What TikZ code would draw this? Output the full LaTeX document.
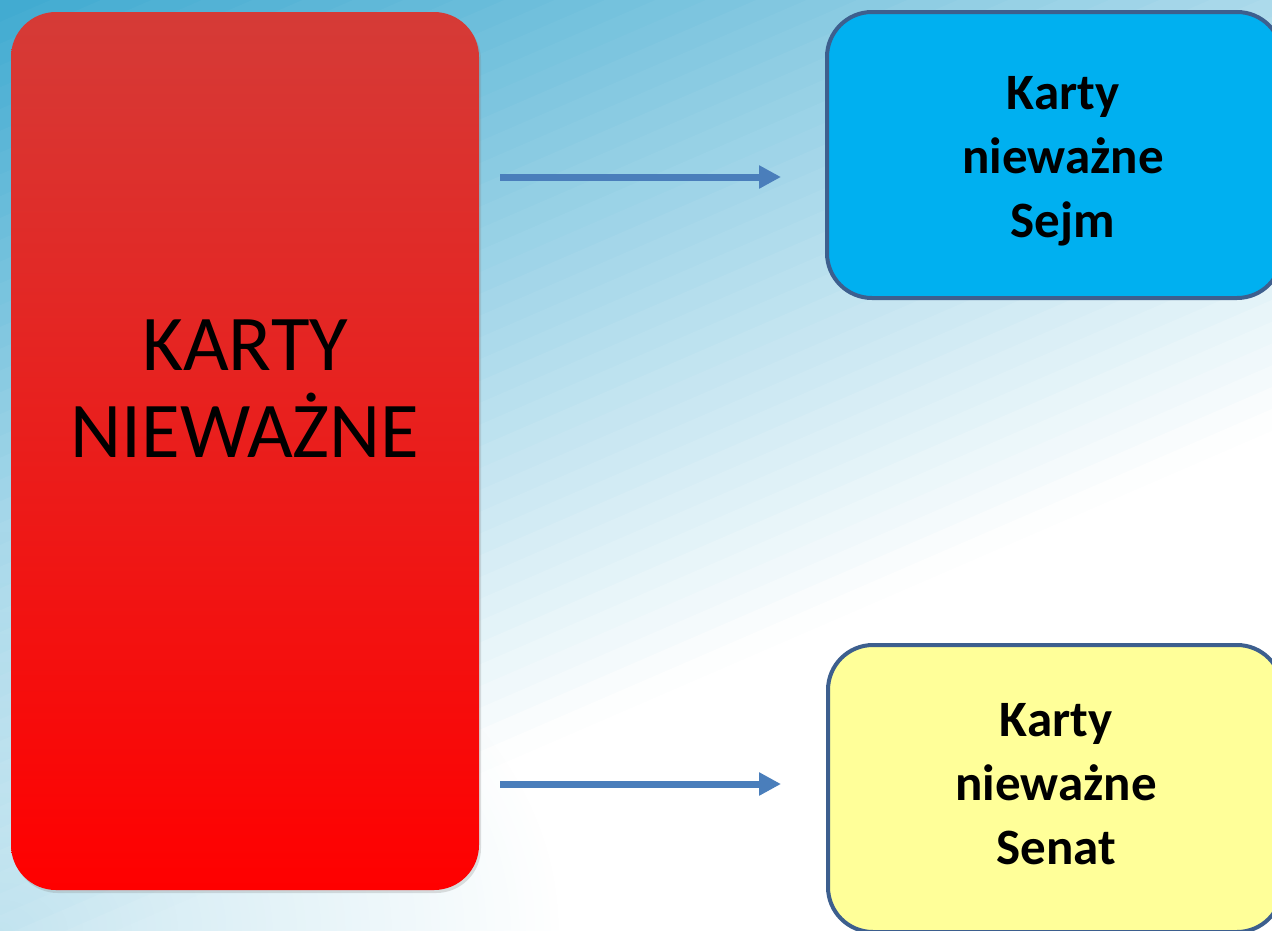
\documentclass[tikz,border=0pt]{standalone}
\usepackage{fontspec}
\setmainfont{Carlito}
\usepackage{tikz}
\usetikzlibrary{arrows.meta,positioning,shadows,fadings}

\definecolor{bgtop}{HTML}{40AAD0}
\definecolor{redtop}{HTML}{D53B37}
\definecolor{redmid}{HTML}{E8302E}
\definecolor{redbot}{HTML}{FF0000}
\definecolor{sejmfill}{HTML}{00B0F0}
\definecolor{senatfill}{HTML}{FFFF99}
\definecolor{boxline}{HTML}{3D5F8E}
\definecolor{arrowblue}{HTML}{4A7EBB}

\tikzfading[name=haze, inner color=transparent!0, outer color=transparent!100]

\tikzset{
  card/.style={rounded corners=45pt, inner sep=0pt},
  choice/.style={card, draw=boxline, line width=4pt},
  bigtext/.style={align=center, font=\fontsize{79}{87}\selectfont},
  smalltext/.style={align=center, font=\fontsize{51}{64}\selectfont\bfseries},
  link/.style={draw=arrowblue, line width=7pt, -{Triangle[length=22pt,width=22pt]}}
}

\begin{document}
\begin{tikzpicture}[x=1pt,y=-1pt]
\useasboundingbox (0,0) rectangle (1272,930);
\clip (0,0) rectangle (1272,930);

% Background: diagonal bands, blue top left to white
\fill[white] (0,0) rectangle (1272,930);
\foreach \pa in {0,20,...,900}{
  \pgfmathsetmacro\pb{\pa+21}
  \pgfmathsetmacro\f{max(0,100*(1-(\pa+10)/900))}
  \fill[bgtop!\f!white]
    ({\pa*0.397-1600*0.918},{\pa*0.918+1600*0.397}) --
    ({\pa*0.397+1600*0.918},{\pa*0.918-1600*0.397}) --
    ({\pb*0.397+1600*0.918},{\pb*0.918-1600*0.397}) --
    ({\pb*0.397-1600*0.918},{\pb*0.918+1600*0.397}) -- cycle;
}
\fill[bgtop, opacity=0.28, path fading=haze] (0,930) ellipse (560pt and 400pt);

% Main card
\node[card, minimum width=468pt, minimum height=878pt,
      top color=redtop, middle color=redmid, bottom color=redbot,
      drop shadow={shadow xshift=2pt, shadow yshift=-3pt, opacity=0.25}]
  (red) at (245,451) {};
\node[bigtext] (redtxt) at (245,389) {KARTY\\NIEWAŻNE};

% Sejm / Senat cards
\node[choice, fill=sejmfill, minimum width=455pt, minimum height=286pt]
  (sejm) at (1054.5,155) {};
\node[smalltext] (sejmtxt) at (1063,161.5) {Karty\\nieważne\\Sejm};

\node[choice, fill=senatfill, minimum width=454pt, minimum height=287pt]
  (senat) at (1055,788.5) {};
\node[smalltext] (senattxt) at (1056,784.5) {Karty\\nieważne\\Senat};

% Arrows
\draw[link] ([xshift=21pt]red.east |- 0,177) -- ([xshift=-44pt]sejm.west |- 0,177);
\draw[link] ([xshift=21pt]red.east |- 0,784) -- ([xshift=-45pt]senat.west |- 0,784);

\end{tikzpicture}
\end{document}
